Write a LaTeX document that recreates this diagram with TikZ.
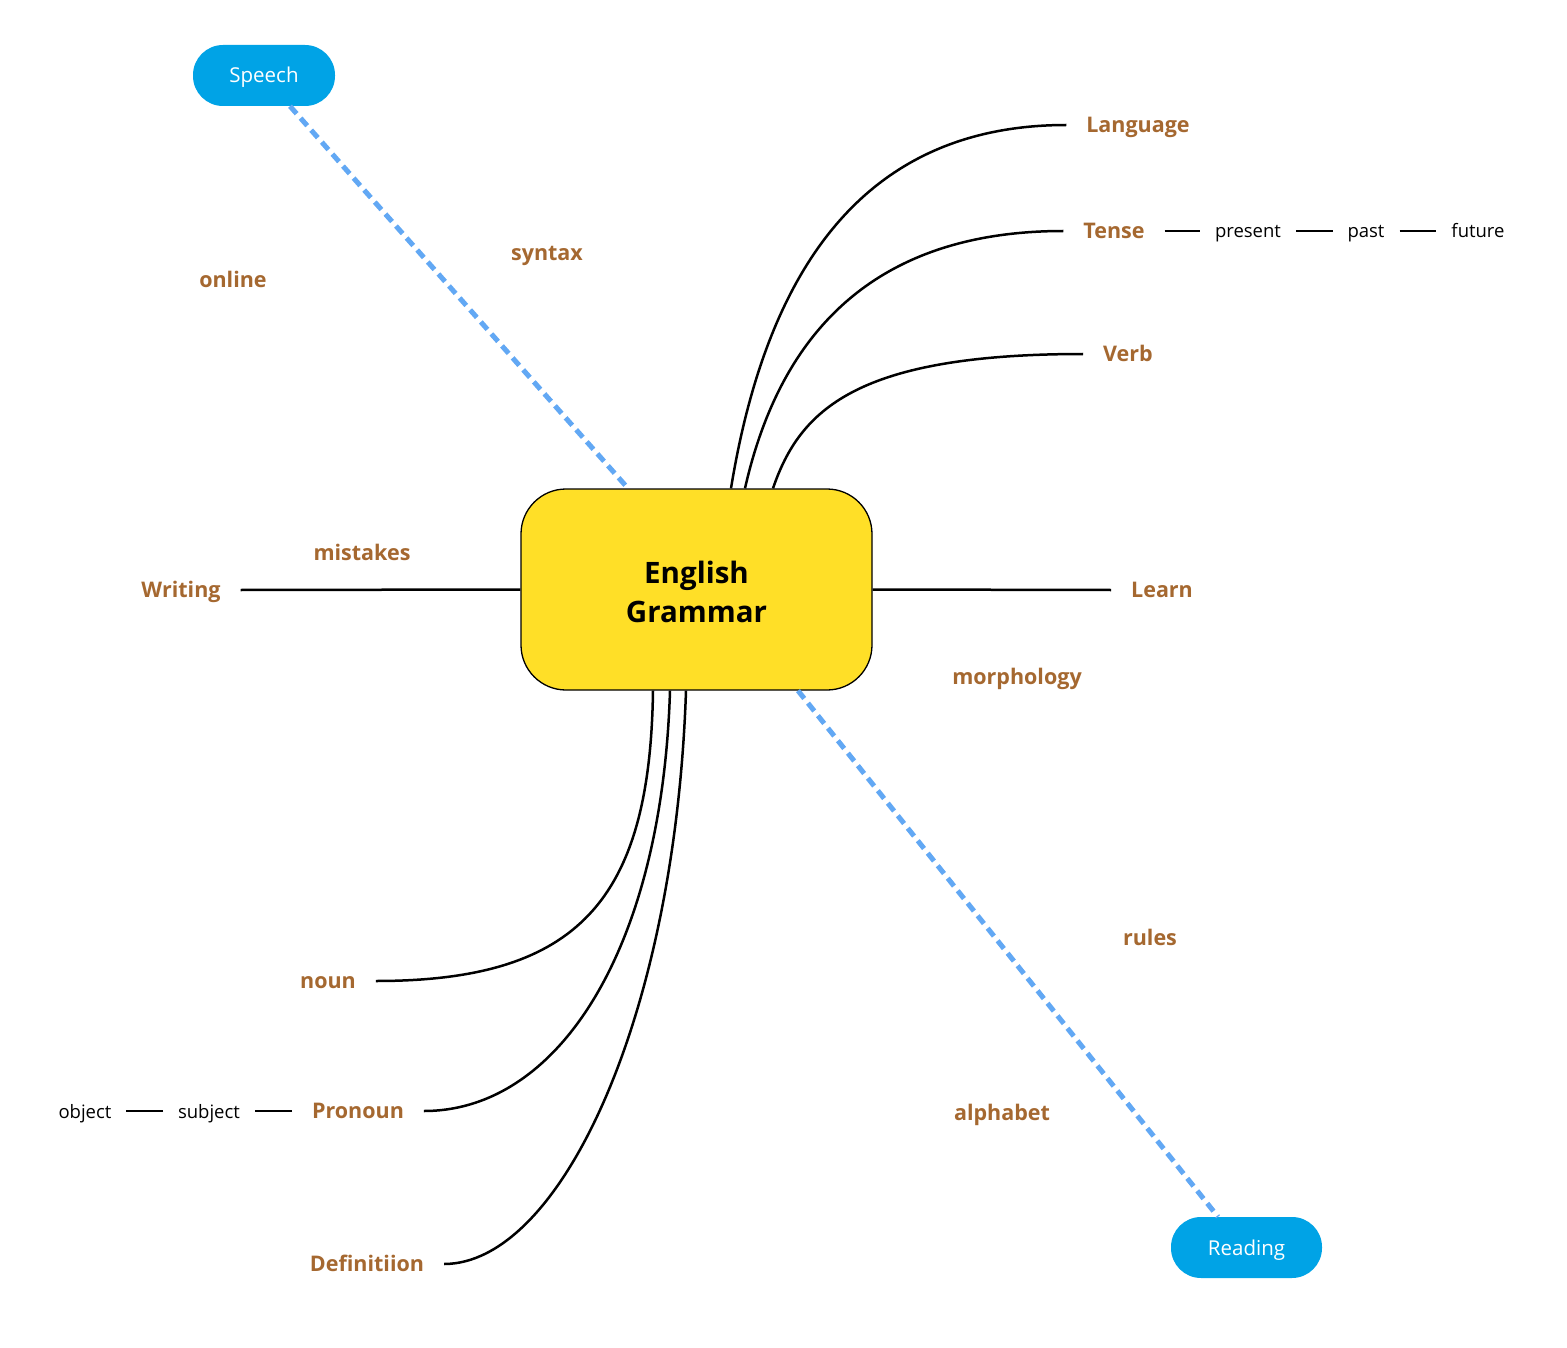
\documentclass[tikz,border=0pt]{standalone}
\usepackage{fontspec}
\setmainfont{Open Sans}
\definecolor{topicbrown}{RGB}{165,104,48}
\definecolor{rootyellow}{RGB}{255,223,39}
\definecolor{pillblue}{RGB}{0,163,230}
\definecolor{linkblue}{RGB}{98,168,244}
\begin{document}
\begin{tikzpicture}[x=1pt, y=-1pt,
    root/.style={draw=black, line width=1.3pt, fill=rootyellow, rounded corners=45pt,
        minimum width=351pt, minimum height=201pt, align=center,
        font=\fontsize{29.5}{39}\selectfont\bfseries},
    topic/.style={text=topicbrown, font=\fontsize{21.5}{25}\selectfont\bfseries,
        inner sep=0pt, text height=15.5pt, text depth=1pt, outer xsep=20pt},
    subtopic/.style={font=\fontsize{18.5}{22}\selectfont, inner sep=0pt,
        text height=14pt, text depth=0pt, outer xsep=15pt},
    pill/.style={fill=pillblue, text=white, rounded corners=30pt, minimum height=61pt,
        font=\fontsize{20.5}{24}\selectfont, text height=15pt, text depth=0pt},
    branch/.style={line width=2.5pt},
    link/.style={linkblue, line width=5pt, dash pattern=on 10pt off 6pt}]
    \useasboundingbox[fill=white] (0,0) rectangle (1567,1348);

    % central topic
    \node[root] (eg) at (696.5,589.5) {\rule{0pt}{28pt}English\\Grammar};

    % floating pills
    \node[pill, minimum width=142pt] (speech) at (264,75.5) {Speech};
    \node[pill, minimum width=151pt] (reading) at (1246.5,1247.5) {Reading};

    % topics
    \node[topic] (language) at (1138,125) {Language};
    \node[topic] (tense) at (1114,231) {Tense};
    \node[topic] (verb) at (1128,354) {Verb};
    \node[topic] (learn) at (1162,590) {Learn};
    \node[topic] (writing) at (181,590) {Writing};
    \node[topic] (noun) at (328,981) {noun};
    \node[topic] (pronoun) at (358,1111) {Pronoun};
    \node[topic] (definition) at (367,1264) {Definitiion};

    \node[subtopic] (present) at (1248,231) {present};
    \node[subtopic] (past) at (1366,231) {past};
    \node[subtopic] (future) at (1478,231) {future};
    \node[subtopic] (subject) at (209,1111) {subject};
    \node[subtopic] (object) at (85,1111) {object};

    % loose labels
    \node[topic] (online) at (233,280) {online};
    \node[topic] (syntax) at (547,253) {syntax};
    \node[topic] (mistakes) at (362,553) {mistakes};
    \node[topic] (morphology) at (1017,677) {morphology};
    \node[topic] (rules) at (1150,938) {rules};
    \node[topic] (alphabet) at (1002,1113) {alphabet};

    % branches
    \draw[branch] ([xshift=34.5pt]eg.north) .. controls +(39,-239) and +(-188,0) .. (language.west);
    \draw[branch] ([xshift=48.5pt]eg.north) .. controls +(38,-168) and +(-177,0) .. (tense.west);
    \draw[branch] ([xshift=76.5pt]eg.north) .. controls +(27,-79) and +(-226,0) .. (verb.west);
    \draw[branch] (eg.east) -- (learn.west);
    \draw[branch] (eg.west) -- (writing.east);
    \draw[branch] ([xshift=-43.5pt]eg.south) .. controls +(-3,210) and +(202,0) .. (noun.east);
    \draw[branch] ([xshift=-26.5pt]eg.south) .. controls +(-8,260) and +(134,0) .. (pronoun.east);
    \draw[branch] ([xshift=-10.5pt]eg.south) .. controls +(-11,330) and +(115,0) .. (definition.east);

    \draw[branch] (tense.east) -- (present.west);
    \draw[branch] (present.east) -- (past.west);
    \draw[branch] (past.east) -- (future.west);
    \draw[branch] (pronoun.west) -- (subject.east);
    \draw[branch] (subject.west) -- (object.east);

    % dashed links
    \draw[link] ([xshift=26pt]speech.south) -- ([xshift=-68.5pt]eg.north);
    \draw[link] ([xshift=101.5pt]eg.south) -- ([xshift=-28.5pt]reading.north);
\end{tikzpicture}
\end{document}
